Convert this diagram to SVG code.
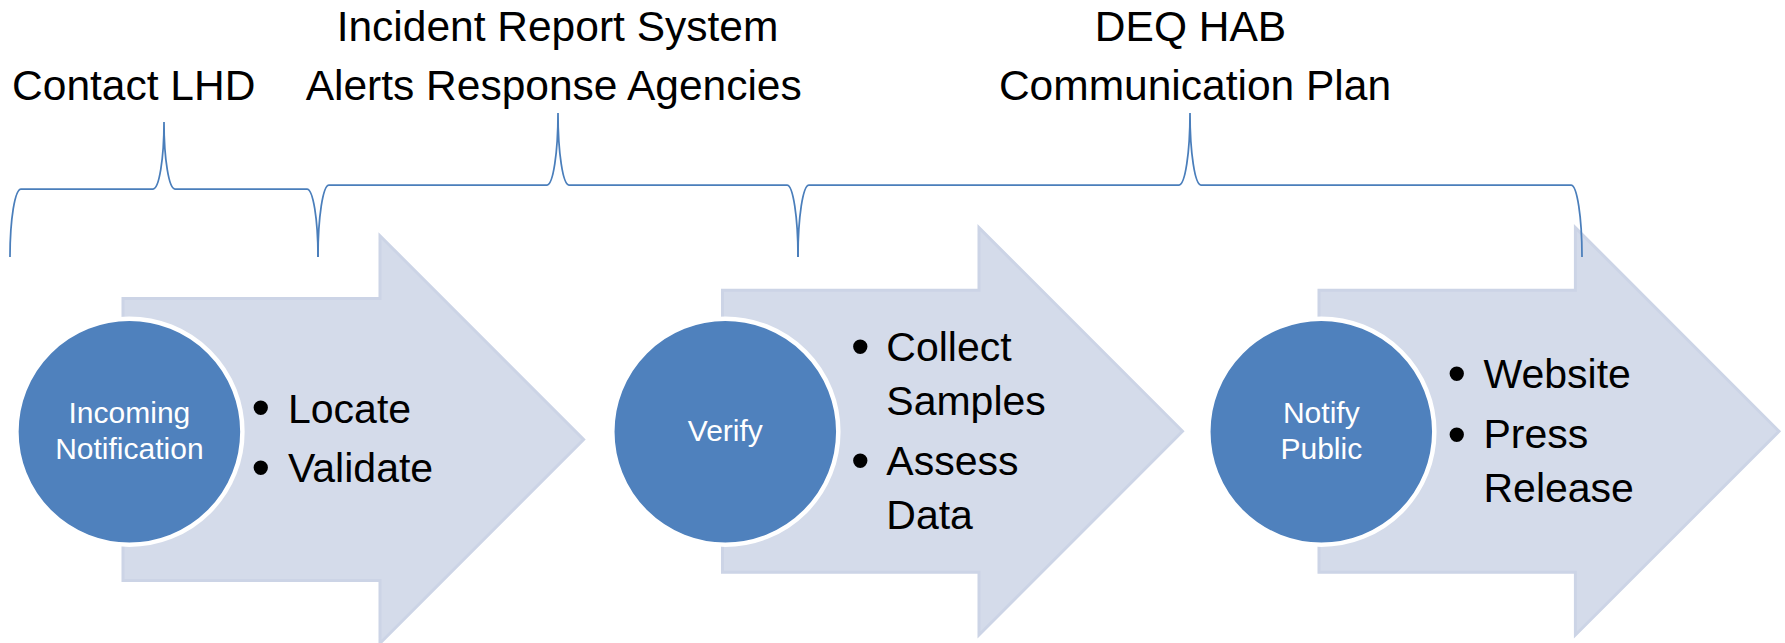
<svg xmlns="http://www.w3.org/2000/svg" width="1785" height="643" viewBox="0 0 1785 643">
<style>
.bg{fill:#ffffff}
.arrow{fill:#d4dbea;stroke:#ccd4e6;stroke-width:3;stroke-linejoin:miter}
.circ{fill:#4f81bd;stroke:#ffffff;stroke-width:4.5}
.brace{fill:none;stroke:#4a7ebb;stroke-width:1.75}
.hdr{font-family:"Liberation Sans",Arial,sans-serif;font-size:42.5px;fill:#000000;text-anchor:middle}
.blt{font-family:"Liberation Sans",Arial,sans-serif;font-size:41px;fill:#000000}
.dot{font-family:"Liberation Sans",Arial,sans-serif;font-size:53px;fill:#000000;text-anchor:middle}
.ctx{font-family:"Liberation Sans",Arial,sans-serif;font-size:30px;fill:#ffffff;text-anchor:middle}
</style>
<rect class="bg" x="0" y="0" width="1785" height="643"/>

<g id="step1">
  <path class="arrow" d="M123,298.5 L380,298.5 L380,235.8 L583.6,439.5 L380,643.2 L380,580.6 L123,580.6 Z"/>
  <circle class="circ" cx="129.4" cy="431.7" r="113"/>
  <text class="ctx" x="129.4" y="423">Incoming</text>
  <text class="ctx" x="129.4" y="459">Notification</text>
  <text class="dot" x="260.7" y="426.3">•</text>
  <text class="blt" x="288" y="423">Locate</text>
  <text class="dot" x="260.7" y="486.3">•</text>
  <text class="blt" x="288" y="482">Validate</text>
</g>

<g id="step2">
  <path class="arrow" d="M722.5,290.3 L979,290.3 L979,227.6 L1182.5,431.3 L979,635 L979,572.3 L722.5,572.3 Z"/>
  <circle class="circ" cx="725.3" cy="431.7" r="113"/>
  <text class="ctx" x="725.3" y="441">Verify</text>
  <text class="dot" x="860.2" y="364.5">•</text>
  <text class="blt" x="886.3" y="361">Collect</text>
  <text class="blt" x="886.3" y="415">Samples</text>
  <text class="dot" x="860.2" y="479">•</text>
  <text class="blt" x="886.3" y="475">Assess</text>
  <text class="blt" x="886.3" y="529">Data</text>
</g>

<g id="step3">
  <path class="arrow" d="M1319,290.3 L1575.4,290.3 L1575.4,227.6 L1779,431.3 L1575.4,635 L1575.4,572.3 L1319,572.3 Z"/>
  <circle class="circ" cx="1321.3" cy="431.7" r="113"/>
  <text class="ctx" x="1321.3" y="423">Notify</text>
  <text class="ctx" x="1321.3" y="459">Public</text>
  <text class="dot" x="1456.7" y="392">•</text>
  <text class="blt" x="1483.5" y="388">Website</text>
  <text class="dot" x="1456.7" y="453.4">•</text>
  <text class="blt" x="1483.5" y="448">Press</text>
  <text class="blt" x="1483.5" y="502">Release</text>
</g>

<g id="phase1">
  <path class="brace" d="M10,257 A11,68 0 0 1 21,189 L153,189 A11,67 0 0 0 164,122 A11,67 0 0 0 175,189 L307,189 A11,68 0 0 1 318,257"/>
  <text class="hdr" x="133.7" y="100">Contact LHD</text>
</g>

<g id="phase2">
  <path class="brace" d="M318,257 A11,72 0 0 1 329,185 L547,185 A11,72 0 0 0 558,113 A11,72 0 0 0 569,185 L787,185 A11,72 0 0 1 798,257"/>
  <text class="hdr" x="557.5" y="41">Incident Report System</text>
  <text class="hdr" x="553.7" y="100">Alerts Response Agencies</text>
</g>

<g id="phase3">
  <path class="brace" d="M798,257 A11,72 0 0 1 809,185 L1179,185 A11,72 0 0 0 1190,113 A11,72 0 0 0 1201,185 L1571,185 A11,72 0 0 1 1582,257"/>
  <text class="hdr" x="1190.5" y="41">DEQ HAB</text>
  <text class="hdr" x="1195" y="100">Communication Plan</text>
</g>

<g id="connectors"></g>
</svg>
